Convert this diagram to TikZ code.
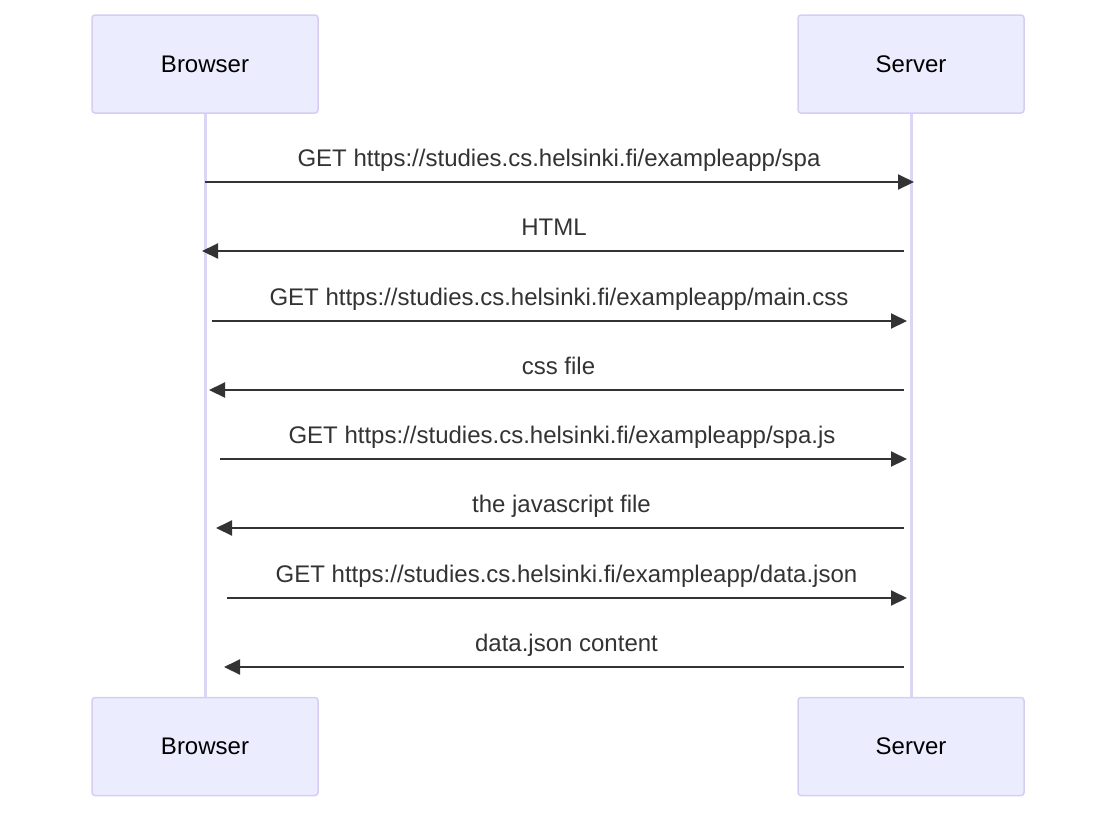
\documentclass[tikz,border=0pt]{standalone}
\usepackage{fontspec}
\setmainfont{Liberation Sans}
\usetikzlibrary{arrows.meta}
\definecolor{actorfill}{HTML}{ECECFF}
\definecolor{actorline}{HTML}{D7CDF3}
\definecolor{lifeline}{HTML}{DDD5F6}
\definecolor{msgcol}{HTML}{333333}
\tikzset{
  actor/.style={draw=actorline, fill=actorfill, line width=1.5pt, rounded corners=3pt,
    minimum width=226pt, minimum height=98pt, inner sep=0pt, font=\fontsize{24}{28}\selectfont, text=black},
  life/.style={draw=lifeline, line width=3pt},
  msg/.style={draw=msgcol, line width=2pt, -{Triangle[length=16pt,width=15pt]}},
  msglabel/.style={anchor=base, inner sep=0pt, font=\fontsize{24}{28}\selectfont, text=msgcol},
}
\begin{document}
\begin{tikzpicture}[x=1pt,y=-1pt]
\useasboundingbox (0,0) rectangle (1116,812);
% lifelines
\coordinate (bl1) at (205,113);
\coordinate (bl2) at (205,698);
\coordinate (sl1) at (911.5,113);
\coordinate (sl2) at (911.5,698);
\draw[life] (bl1) -- (bl2);
\draw[life] (sl1) -- (sl2);
% actors
\node[actor] (btop) at (205,64) {Browser};
\node[actor] (stop) at (911,64) {Server};
\node[actor] (bbot) at (205,746.5) {Browser};
\node[actor] (sbot) at (911,746.5) {Server};
% message endpoints
\coordinate (m1a) at (205,182);   \coordinate (m1b) at (914,182);
\coordinate (m2a) at (904,251);   \coordinate (m2b) at (202,251);
\coordinate (m3a) at (212,321);   \coordinate (m3b) at (907,321);
\coordinate (m4a) at (904,390);   \coordinate (m4b) at (209,390);
\coordinate (m5a) at (220,459);   \coordinate (m5b) at (907,459);
\coordinate (m6a) at (904,528);   \coordinate (m6b) at (216,528);
\coordinate (m7a) at (227,598);   \coordinate (m7b) at (907,598);
\coordinate (m8a) at (904,667);   \coordinate (m8b) at (224,667);
\draw[msg] (m1a) -- (m1b);
\draw[msg] (m2a) -- (m2b);
\draw[msg] (m3a) -- (m3b);
\draw[msg] (m4a) -- (m4b);
\draw[msg] (m5a) -- (m5b);
\draw[msg] (m6a) -- (m6b);
\draw[msg] (m7a) -- (m7b);
\draw[msg] (m8a) -- (m8b);
% labels
\node[msglabel] (l1) at (559,166.5) {GET https://studies.cs.helsinki.fi/exampleapp/spa};
\node[msglabel] (l2) at (554,235.5) {HTML};
\node[msglabel] (l3) at (559,305.5) {GET https://studies.cs.helsinki.fi/exampleapp/main.css};
\node[msglabel] (l4) at (558.5,374.5) {css file};
\node[msglabel] (l5) at (562,443.5) {GET https://studies.cs.helsinki.fi/exampleapp/spa.js};
\node[msglabel] (l6) at (561.5,512.5) {the javascript file};
\node[msglabel] (l7) at (566.5,582.5) {GET https://studies.cs.helsinki.fi/exampleapp/data.json};
\node[msglabel] (l8) at (566.5,651.5) {data.json content};
\end{tikzpicture}
\end{document}
